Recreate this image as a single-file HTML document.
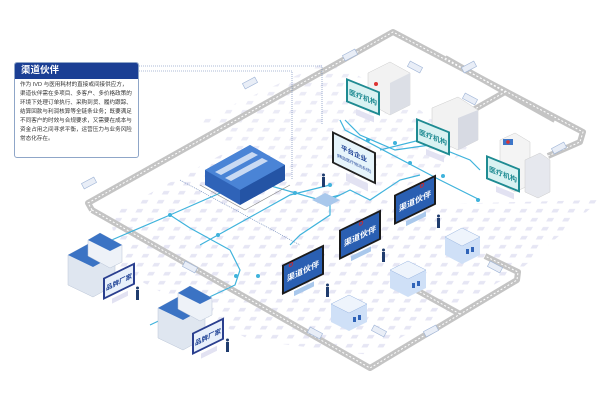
<!DOCTYPE html>
<html><head><meta charset="utf-8"><style>
html,body{margin:0;padding:0;background:#fff;width:600px;height:400px;overflow:hidden}
svg{display:block}
text{font-family:"Liberation Sans","Noto Sans CJK SC",sans-serif}
.box{position:absolute;left:14px;top:62px;width:123px;height:94px;border:1px solid #8fa6c8;border-radius:3px;background:#fff;font-family:"Liberation Sans","Noto Sans CJK SC",sans-serif}
.hd{background:#1b3f94;color:#fff;font-size:9.5px;font-weight:bold;padding:2px 6px;height:12px;line-height:12px;border-radius:2px 2px 0 0}
.bd{font-size:5.6px;line-height:9px;color:#333;padding:2px 5px}
</style></head><body>
<svg width="600" height="400" viewBox="0 0 600 400" xmlns="http://www.w3.org/2000/svg" style="position:absolute;left:0;top:0">
<defs>
<pattern id="g" width="16" height="9" patternUnits="userSpaceOnUse" patternTransform="skewX(-30)">
<rect x="2" y="2" width="6" height="3.5" fill="#e6e6f4"/>
</pattern>
</defs>
<polygon points="110,215 230,150 400,205 600,200 520,270 370,355 250,340 120,270" fill="url(#g)"/>
<polygon points="200,120 330,60 420,110 470,150 400,190 300,200" fill="url(#g)" opacity="0.8"/>
<g fill="none" stroke="#c4c4c4" stroke-width="6" stroke-linejoin="round">
<polyline points="92,210 88,203 393,32 583,132 580,142 548,156"/>
<polyline points="92,210 370,368 517,280 518,272 485,256"/>
<polyline points="445,58 505,92 420,140"/>
<polyline points="505,92 555,120"/>
<polyline points="460,314 402,282"/>
</g>
<g fill="none" stroke="#fff" stroke-width="1" stroke-dasharray="2 2">
<polyline points="92,210 88,203 393,32 583,132 580,142 548,156"/>
<polyline points="92,210 370,368 517,280 518,272 485,256"/>
<polyline points="445,58 505,92 420,140"/>
<polyline points="460,314 402,282"/>
</g>
<g fill="#e9eef7" stroke="#9fb4d6" stroke-width="0.6">
<rect x="243" y="80" width="14" height="6" transform="rotate(-28 250 83)"/>
<rect x="343" y="52" width="14" height="6" transform="rotate(-28 350 55)"/>
<rect x="408" y="64" width="14" height="6" transform="rotate(28 415 67)"/>
<rect x="462" y="64" width="14" height="6" transform="rotate(-28 469 67)"/>
<rect x="463" y="96" width="14" height="6" transform="rotate(28 470 99)"/>
<rect x="552" y="145" width="14" height="6" transform="rotate(-28 559 148)"/>
<rect x="82" y="180" width="14" height="6" transform="rotate(-28 89 183)"/>
<rect x="183" y="264" width="14" height="6" transform="rotate(28 190 267)"/>
<rect x="308" y="330" width="14" height="6" transform="rotate(28 315 333)"/>
<rect x="372" y="328" width="14" height="6" transform="rotate(28 379 331)"/>
<rect x="424" y="328" width="14" height="6" transform="rotate(-28 431 331)"/>
<rect x="488" y="264" width="14" height="6" transform="rotate(28 495 267)"/>
</g>
<g fill="none" stroke="#3fb3dc" stroke-width="1.2">
<polyline points="100,245 170,215 190,228 230,250 240,270 235,285 150,325"/>
<polyline points="170,215 250,180 320,200 340,195"/>
<polyline points="200,245 290,195 330,185"/>
<polyline points="290,245 300,235 330,215 330,200 350,190 370,200 400,180 420,175"/>
<polyline points="340,120 345,130 440,180 480,200"/>
<polyline points="380,150 420,140 470,160 480,170"/>
<polyline points="345,120 360,135 395,150 430,145"/>
</g>
<g fill="#3fb3dc">
<circle cx="170" cy="215" r="2"/><circle cx="250" cy="180" r="2"/><circle cx="295" cy="193" r="2"/><circle cx="330" cy="185" r="2"/><circle cx="218" cy="235" r="2"/><circle cx="258" cy="276" r="2"/><circle cx="236" cy="276" r="2"/><circle cx="395" cy="143" r="2"/><circle cx="410" cy="163" r="2"/><circle cx="443" cy="176" r="2"/><circle cx="478" cy="200" r="2"/><circle cx="368" cy="140" r="2"/>
</g>
<g fill="none" stroke="#5b79b0" stroke-width="0.6" stroke-dasharray="1 1">
<polyline points="137,66 322,66 322,125"/>
<polyline points="137,71 292,71 292,180"/>
<polyline points="180,180 300,245"/>
</g>
<g>
<polygon points="205,170 250,145 285,165 285,180 240,205 205,185" fill="#2f63b8"/>
<polygon points="205,170 250,145 285,165 240,190" fill="#4a84d6"/>
<polygon points="215,172 252,152 258,155 221,175" fill="#fff" opacity=".7"/>
<polygon points="225,178 262,158 268,161 231,181" fill="#fff" opacity=".7"/>
<polygon points="240,190 285,165 285,180 240,205" fill="#2454a5"/>
<polyline points="200,185 245,210 290,185" fill="none" stroke="#888" stroke-width="0.6"/>
</g>
<g>
<polygon points="368,73 390,62 410,73 410,105 390,115 368,103" fill="#f2f2f2" stroke="#ccc" stroke-width=".5"/>
<polygon points="390,83 410,73 410,105 390,115" fill="#dcdfe6"/>
<circle cx="376" cy="84" r="2" fill="#d33"/>
<polygon points="432,108 458,97 478,110 478,140 458,150 432,138" fill="#f2f2f2" stroke="#ccc" stroke-width=".5"/>
<polygon points="458,118 478,110 478,140 458,150" fill="#d7dae3"/>
<polygon points="500,140 515,133 530,142 530,185 515,192 500,184" fill="#f4f4f4" stroke="#ccc" stroke-width=".5"/>
<polygon points="525,160 540,153 550,160 550,192 538,198 525,192" fill="#e6e8ee" stroke="#ccc" stroke-width=".5"/>
<rect x="503" y="139" width="10" height="6" fill="#3d76c8"/>
<circle cx="508" cy="142" r="1.8" fill="#d33"/>
</g>
<g>
<polygon points="445,237 462,228 480,237 480,255 462,264 445,255" fill="#cfe0f7"/>
<polygon points="445,237 462,228 480,237 462,246" fill="#eef4fc" stroke="#9ab6e0" stroke-width=".5"/>
<rect x="466" y="249" width="3" height="5" fill="#2f63b8"/><rect x="471" y="247" width="3" height="5" fill="#2f63b8"/>
<polygon points="390,270 408,261 426,270 426,288 408,297 390,288" fill="#cfe0f7"/>
<polygon points="390,270 408,261 426,270 408,279" fill="#eef4fc" stroke="#9ab6e0" stroke-width=".5"/>
<rect x="412" y="283" width="3" height="5" fill="#2f63b8"/><rect x="417" y="281" width="3" height="5" fill="#2f63b8"/>
<polygon points="331,304 349,295 367,304 367,322 349,331 331,322" fill="#cfe0f7"/>
<polygon points="331,304 349,295 367,304 349,313" fill="#eef4fc" stroke="#9ab6e0" stroke-width=".5"/>
<rect x="353" y="317" width="3" height="5" fill="#2f63b8"/><rect x="358" y="315" width="3" height="5" fill="#2f63b8"/>
</g>
<g>
<polygon points="68,255 90,243 115,255 115,285 93,297 68,285" fill="#dfe6f0" stroke="#b9c4d6" stroke-width=".5"/>
<polygon points="68,255 90,243 115,255 93,267" fill="#3b73c4"/>
<polygon points="88,240 100,233 122,245 122,262 110,268 88,256" fill="#eef2f8" stroke="#b9c4d6" stroke-width=".5"/>
<polygon points="88,240 100,233 122,245 110,251" fill="#3b73c4"/>
<polygon points="158,308 180,296 205,308 205,338 183,350 158,338" fill="#dfe6f0" stroke="#b9c4d6" stroke-width=".5"/>
<polygon points="158,308 180,296 205,308 183,320" fill="#3b73c4"/>
<polygon points="178,293 190,286 212,298 212,315 200,321 178,309" fill="#eef2f8" stroke="#b9c4d6" stroke-width=".5"/>
<polygon points="178,293 190,286 212,298 200,304" fill="#3b73c4"/>
</g>
<g transform="translate(346,78) skewY(22)">
<rect width="34" height="24" fill="#1e8b92"/><rect x="2" y="2" width="30" height="20" fill="#d9f2f2"/>
<text x="17" y="15" font-size="7" font-weight="bold" fill="#1e8b92" text-anchor="middle">医疗机构</text>
<rect x="10" y="27" width="18" height="6" fill="#e2e2f2"/>
</g>
<g transform="translate(416,118) skewY(22)">
<rect width="34" height="24" fill="#1e8b92"/><rect x="2" y="2" width="30" height="20" fill="#d9f2f2"/>
<text x="17" y="15" font-size="7" font-weight="bold" fill="#1e8b92" text-anchor="middle">医疗机构</text>
<rect x="10" y="27" width="18" height="6" fill="#e2e2f2"/>
</g>
<g transform="translate(486,155) skewY(22)">
<rect width="34" height="24" fill="#1e8b92"/><rect x="2" y="2" width="30" height="20" fill="#d9f2f2"/>
<text x="17" y="15" font-size="7" font-weight="bold" fill="#1e8b92" text-anchor="middle">医疗机构</text>
<rect x="10" y="27" width="18" height="6" fill="#e2e2f2"/>
</g>
<g transform="translate(332,131) skewY(26)">
<rect width="44" height="32" fill="#222"/><rect x="2" y="2" width="40" height="28" fill="#e6f4fb"/>
<text x="22" y="14" font-size="6.5" font-weight="bold" fill="#1b3f94" text-anchor="middle">平台企业</text>
<text x="22" y="23" font-size="4" fill="#1b3f94" text-anchor="middle">(精益医疗物流系统)</text>
<rect x="14" y="35" width="22" height="8" fill="#e2e2f2"/>
</g>
<polygon points="312,200 325,193 340,200 327,207" fill="#a9c8ec"/>
<g transform="translate(394,195) skewY(-26)">
<rect width="42" height="30" fill="#1b1b1b"/><rect x="2" y="2" width="38" height="26" fill="#2a5fb2"/>
<text x="21" y="19" font-size="8" font-weight="bold" fill="#fff" text-anchor="middle">渠道伙伴</text>
<circle cx="28" cy="4" r="1.8" fill="none" stroke="#d22" stroke-width=".8"/>
<rect x="12" y="32" width="20" height="5" fill="#a9c8ec"/>
</g>
<g transform="translate(339,230) skewY(-26)">
<rect width="42" height="30" fill="#1b1b1b"/><rect x="2" y="2" width="38" height="26" fill="#2a5fb2"/>
<text x="21" y="19" font-size="8" font-weight="bold" fill="#fff" text-anchor="middle">渠道伙伴</text>
<circle cx="22" cy="4" r="1.8" fill="none" stroke="#d22" stroke-width=".8"/>
<rect x="12" y="32" width="20" height="5" fill="#a9c8ec"/>
</g>
<g transform="translate(282,265) skewY(-26)">
<rect width="42" height="30" fill="#1b1b1b"/><rect x="2" y="2" width="38" height="26" fill="#2a5fb2"/>
<text x="21" y="19" font-size="8" font-weight="bold" fill="#fff" text-anchor="middle">渠道伙伴</text>
<circle cx="9" cy="4" r="1.8" fill="none" stroke="#d22" stroke-width=".8"/>
<rect x="12" y="32" width="20" height="5" fill="#a9c8ec"/>
</g>
<g transform="translate(103,278) skewY(-26)">
<rect width="32" height="22" fill="#2a3f8f"/><rect x="2" y="2" width="28" height="18" fill="#e8f0fb"/>
<text x="16" y="14" font-size="6.5" font-weight="bold" fill="#1b3f94" text-anchor="middle">品牌厂家</text>
<rect x="9" y="25" width="16" height="5" fill="#e2e2f2"/>
</g>
<g transform="translate(192,333) skewY(-26)">
<rect width="32" height="22" fill="#2a3f8f"/><rect x="2" y="2" width="28" height="18" fill="#e8f0fb"/>
<text x="16" y="14" font-size="6.5" font-weight="bold" fill="#1b3f94" text-anchor="middle">品牌厂家</text>
<rect x="9" y="25" width="16" height="5" fill="#e2e2f2"/>
</g>
<g fill="#1f3c6e">
<rect x="322" y="177" width="3" height="10"/><circle cx="323.5" cy="175" r="1.5"/>
<rect x="437" y="218" width="3" height="10"/><circle cx="438.5" cy="216" r="1.5"/>
<rect x="382" y="252" width="3" height="10"/><circle cx="383.5" cy="250" r="1.5"/>
<rect x="326" y="287" width="3" height="10"/><circle cx="327.5" cy="285" r="1.5"/>
<rect x="136" y="290" width="3" height="10"/><circle cx="137.5" cy="288" r="1.5"/>
<rect x="226" y="342" width="3" height="10"/><circle cx="227.5" cy="340" r="1.5"/>
</g>
</svg>
<div class="box"><div class="hd">渠道伙伴</div><div class="bd">作为 IVD 与医用耗材的直接或间接供应方，渠道伙伴需在多项目、多客户、多价格政策的环境下处理订单执行、采购到货、履约跟踪、结算回款与利润核算等全链条业务；既要满足不同客户的时效与合规要求，又需要在成本与资金占用之间寻求平衡，运营压力与业务风险常态化存在。</div></div>
</body></html>
